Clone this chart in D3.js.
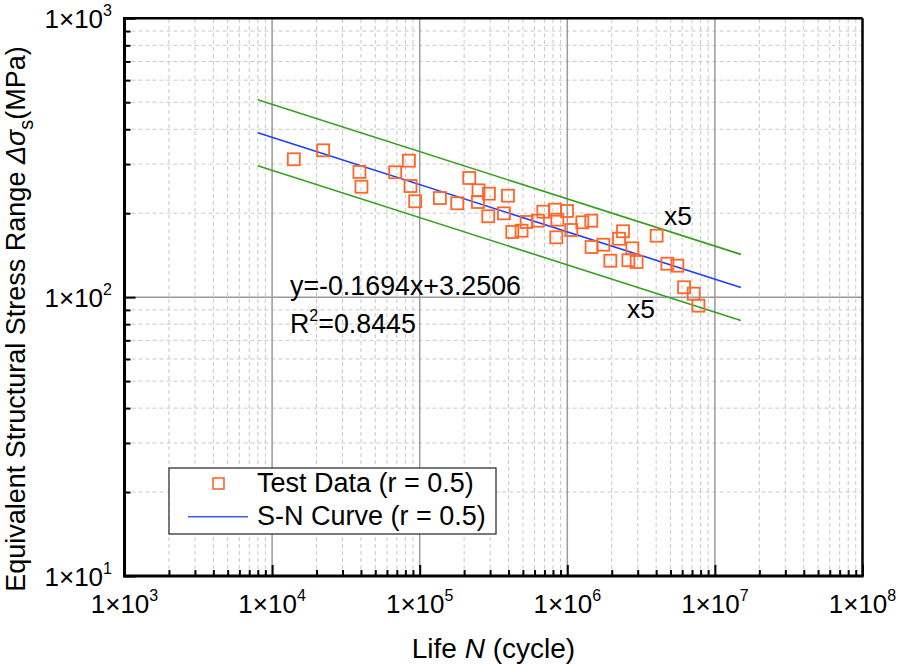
<!DOCTYPE html>
<html>
<head>
<meta charset="utf-8">
<script src="https://cdn.jsdelivr.net/npm/d3@7/dist/d3.min.js"></script>
<style>
  html, body { margin: 0; padding: 0; background: #fff; }
  svg { display: block; font-family: "Liberation Sans", Arial, Helvetica, sans-serif; }
</style>
</head>
<body>
<svg id="chart" width="898" height="666"></svg>
<script>
// ---- data ----
const lifeN = [14030, 22170, 39070, 40310, 68220, 84500, 86610, 93220, 137000, 179600,
  216600, 250400, 294500, 248100, 396300, 291300, 372200, 423800, 490000, 529900,
  633000, 687800, 825000, 855300, 995000, 842000, 1064000, 1264000, 1454000, 1461000,
  1754000, 2385000, 2241000, 2759000, 1957000, 2592000, 2950000, 4030000, 4764000, 5569000,
  6183000, 7183000, 7730000];
const stress = [312.2, 336.2, 281.1, 248.9, 280.4, 308.6, 250.3, 220.7, 226.7, 217.1,
  267.5, 241.6, 235.0, 219.4, 231.1, 195.0, 199.8, 171.3, 173.1, 186.0,
  188.0, 202.5, 205.9, 189.6, 203.7, 163.9, 174.1, 185.5, 188.0, 151.3,
  154.2, 172.3, 162.0, 149.7, 135.1, 135.6, 133.7, 166.1, 131.8, 129.7,
  108.5, 102.9, 93.2];
const fitSlope = -0.1694;
const fitIntercept = 3.2506;
const fitRange = [8000, 1.5e7];
const scatterFactor = 5;
const xTickExps = [3, 4, 5, 6, 7, 8];
const yTickExps = [1, 2, 3];
const equationText = "y=-0.1694x+3.2506";
const r2Value = "=0.8445";
const legendLabels = ["Test Data (r = 0.5)", "S-N Curve (r = 0.5)"];

// ---- layout ----
const svg = d3.select("#chart");
const X0 = 124.5, X1 = 862.5, Y0 = 576, Y1 = 18.3;
const x = d3.scaleLog().domain([1e3, 1e8]).range([X0, X1]);
const y = d3.scaleLog().domain([10, 1000]).range([Y0, Y1]);

const C_MARK = "#ff6628", C_FIT = "#1f3cff", C_BAND = "#35a01c";

// minor grid
const minorX = [], minorY = [];
for (let e = 3; e < 8; e++) for (let k = 2; k <= 9; k++) minorX.push(k * Math.pow(10, e));
for (let e = 1; e < 3; e++) for (let k = 2; k <= 9; k++) minorY.push(k * Math.pow(10, e));
const g = svg.append("g");
g.selectAll(".mgx").data(minorX).enter().append("line")
  .attr("x1", d => x(d)).attr("x2", d => x(d)).attr("y1", Y0).attr("y2", Y1)
  .attr("stroke", "#c8c8c8").attr("stroke-width", 1).attr("stroke-dasharray", "4,3");
g.selectAll(".mgy").data(minorY).enter().append("line")
  .attr("y1", d => y(d)).attr("y2", d => y(d)).attr("x1", X0).attr("x2", X1)
  .attr("stroke", "#c8c8c8").attr("stroke-width", 1).attr("stroke-dasharray", "4,3");
// major grid
g.selectAll(".Mgx").data([1e4, 1e5, 1e6, 1e7]).enter().append("line")
  .attr("x1", d => x(d)).attr("x2", d => x(d)).attr("y1", Y0).attr("y2", Y1)
  .attr("stroke", "#9a9a9a").attr("stroke-width", 1.5);
g.selectAll(".Mgy").data([100]).enter().append("line")
  .attr("y1", d => y(d)).attr("y2", d => y(d)).attr("x1", X0).attr("x2", X1)
  .attr("stroke", "#9a9a9a").attr("stroke-width", 1.5);

// axes with inward ticks
const xAxisMajor = d3.axisTop(x).tickValues(xTickExps.map(e => Math.pow(10, e))).tickSize(11).tickFormat("");
const xAxisMinor = d3.axisTop(x).tickValues(minorX).tickSize(6).tickFormat("");
const yAxisMajor = d3.axisRight(y).tickValues(yTickExps.map(e => Math.pow(10, e))).tickSize(11).tickFormat("");
const yAxisMinor = d3.axisRight(y).tickValues(minorY).tickSize(6).tickFormat("");
[xAxisMajor, xAxisMinor].forEach(a => {
  const ga = svg.append("g").attr("transform", `translate(0,${Y0})`).call(a);
  ga.select(".domain").remove();
  ga.selectAll("line").attr("stroke", "#000").attr("stroke-width", 2);
});
[yAxisMajor, yAxisMinor].forEach(a => {
  const ga = svg.append("g").attr("transform", `translate(${X0},0)`).call(a);
  ga.select(".domain").remove();
  ga.selectAll("line").attr("stroke", "#000").attr("stroke-width", 2);
});

// frame
svg.append("line").attr("x1", X0).attr("x2", X1).attr("y1", Y1).attr("y2", Y1).attr("stroke", "#000").attr("stroke-width", 2.5);
svg.append("line").attr("x1", X1).attr("x2", X1).attr("y1", Y1).attr("y2", Y0).attr("stroke", "#000").attr("stroke-width", 2.5);
svg.append("line").attr("x1", X0).attr("x2", X0).attr("y1", Y1 - 1.2).attr("y2", Y0 + 1.5).attr("stroke", "#000").attr("stroke-width", 3);
svg.append("line").attr("x1", X0).attr("x2", X1 + 1.2).attr("y1", Y0).attr("y2", Y0).attr("stroke", "#000").attr("stroke-width", 3);

// tick labels
function powLabel(sel, e) {
  sel.append("tspan").text("1×10");
  sel.append("tspan").attr("dy", -12).attr("font-size", 16).text(e);
}
xTickExps.forEach(e => {
  const t = svg.append("text").attr("x", x(Math.pow(10, e))).attr("y", 613)
    .attr("text-anchor", "middle").attr("font-size", 26).attr("fill", "#000");
  powLabel(t, e);
});
yTickExps.forEach(e => {
  const t = svg.append("text").attr("x", 112).attr("y", y(Math.pow(10, e)) + 10)
    .attr("text-anchor", "end").attr("font-size", 26).attr("fill", "#000");
  powLabel(t, e);
});

// axis titles
const xt = svg.append("text").attr("x", 493.5).attr("y", 658).attr("text-anchor", "middle")
  .attr("font-size", 28).attr("fill", "#000");
xt.append("tspan").text("Life ");
xt.append("tspan").attr("font-style", "italic").text("N");
xt.append("tspan").text(" (cycle)");

const yt = svg.append("text").attr("transform", "translate(25,319) rotate(-90)")
  .attr("text-anchor", "middle").attr("font-size", 27).attr("fill", "#000");
yt.append("tspan").text("Equivalent Structural Stress Range ");
yt.append("tspan").attr("font-style", "italic").text("Δσ");
yt.append("tspan").attr("dy", 8).attr("font-size", 20).text("s");
yt.append("tspan").attr("dy", -8).text("(MPa)");

// lines
const fitFn = (N, shift) => Math.pow(10, fitIntercept + fitSlope * (Math.log10(N) + shift));
const line = d3.line().x(d => x(d[0])).y(d => y(d[1]));
const bands = [
  { shift: -Math.log10(scatterFactor), color: C_BAND },
  { shift: Math.log10(scatterFactor), color: C_BAND },
  { shift: 0, color: C_FIT }
];
bands.forEach(b => {
  svg.append("path").datum(fitRange.map(N => [N, fitFn(N, b.shift)]))
    .attr("d", line).attr("fill", "none").attr("stroke", b.color).attr("stroke-width", 1.6);
});

// markers
const S = 12;
svg.append("g").selectAll("rect").data(lifeN.map((n, i) => [n, stress[i]])).enter().append("rect")
  .attr("x", d => x(d[0]) - S / 2).attr("y", d => y(d[1]) - S / 2)
  .attr("width", S).attr("height", S)
  .attr("fill", "none").attr("stroke", C_MARK).attr("stroke-width", 1.8);

// annotations
svg.append("text").attr("x", 290).attr("y", 295).attr("font-size", 26.8).text(equationText);
const r2 = svg.append("text").attr("x", 290).attr("y", 333).attr("font-size", 26.8);
r2.append("tspan").text("R");
r2.append("tspan").attr("dy", -12).attr("font-size", 16).text("2");
r2.append("tspan").attr("dy", 12).text(r2Value);
svg.append("text").attr("x", 664).attr("y", 225).attr("font-size", 26.5).text("x" + scatterFactor);
svg.append("text").attr("x", 627).attr("y", 318).attr("font-size", 26.5).text("x" + scatterFactor);

// legend
const lg = svg.append("g");
lg.append("rect").attr("x", 169).attr("y", 468).attr("width", 327).attr("height", 66)
  .attr("fill", "#fff").attr("stroke", "#333").attr("stroke-width", 1.3);
lg.append("rect").attr("x", 218.5 - 5.5).attr("y", 483.5 - 5.5).attr("width", 11).attr("height", 11)
  .attr("fill", "none").attr("stroke", C_MARK).attr("stroke-width", 1.6);
lg.append("line").attr("x1", 188).attr("x2", 248).attr("y1", 516.7).attr("y2", 516.7)
  .attr("stroke", "#3a5cf5").attr("stroke-width", 1.5);
lg.append("text").attr("x", 257).attr("y", 492).attr("font-size", 27).text(legendLabels[0]);
lg.append("text").attr("x", 257).attr("y", 525).attr("font-size", 27).text(legendLabels[1]);
</script>
</body>
</html>
